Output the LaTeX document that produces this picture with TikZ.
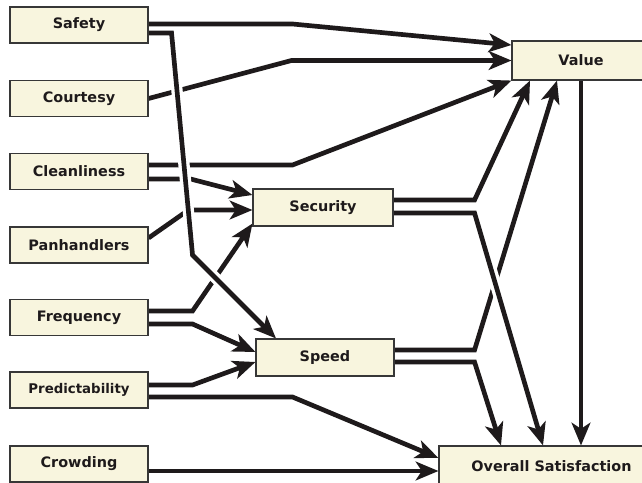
\documentclass[tikz,border=0pt]{standalone}
\usepackage{fontspec}
\setmainfont{DejaVu Sans}
\usetikzlibrary{arrows.meta,calc}
\pgfdeclarelayer{background}
\pgfsetlayers{background,main}
\definecolor{boxfill}{RGB}{248,245,222}
\definecolor{ink}{RGB}{30,26,27}
\definecolor{boxedge}{RGB}{55,55,55}
\tikzset{
 box/.style={draw=boxedge, line width=0.8pt, fill=boxfill, text=ink,
   font=\bfseries\fontsize{10.8}{12}\selectfont, inner sep=0pt,
   minimum width=103.5pt, minimum height=27pt},
 conn/.style={draw=ink, line width=3.5pt, line join=miter,
   -{Stealth[length=17pt,width=14pt,inset=4.5pt]}},
 halo/.style={preaction={draw=white, line width=8.5pt, -, line join=round,
   shorten <=3pt, shorten >=24pt}},
}
\begin{document}
\begin{tikzpicture}[x=0.75pt,y=-0.75pt]
\useasboundingbox (0,0) rectangle (642,482);
\clip (0,0) rectangle (642,482);
\begin{pgfonlayer}{background}
\fill[white] (0,0) rectangle (642,482);
\end{pgfonlayer}
% left column
\node[box] (safety) at (79,25) {Safety};
\node[box] (courtesy) at (79,98.5) {Courtesy};
\node[box] (cleanliness) at (79,171.5) {Cleanliness};
\node[box] (panhandlers) at (79,245) {Panhandlers};
\node[box] (frequency) at (79,317.5) {Frequency};
\node[box, font=\bfseries\fontsize{10}{12}\selectfont] (predictability) at (79,390) {Predictability};
\node[box] (crowding) at (79,464) {Crowding};
% middle
\node[box, minimum width=105pt, minimum height=27.75pt] (security) at (323,207.5) {Security};
\node[box, minimum height=27.75pt] (speed) at (325,357.5) {Speed};
% right
\node[box, minimum height=29.25pt] (value) at (581,60.5) {Value};
\node[box, minimum width=168.75pt, minimum height=30pt] (overall) at (551.5,466) {Overall Satisfaction};
\begin{pgfonlayer}{background}
\draw[conn] ($(safety.east)+(0,-1)$) -- ++(144,0) -- ($(value.west)+(0,-15.5)$);
\draw[conn] (courtesy.east) -- ($(value.west)+(-220,0)$) -- (value.west);
\draw[conn] ($(cleanliness.east)+(0,-6.5)$) -- ++(144,0) -- (value.south west);
\draw[conn] ($(cleanliness.east)+(0,7.5)$) -- ++(42,0) -- ($(security.west)+(0,-12.5)$);
\draw[conn] ($(panhandlers.east)+(0,-7)$) -- ($(security.west)+(-64,2.5)$) -- ($(security.west)+(0,2.5)$);
\draw[conn] ($(frequency.east)+(0,-6.5)$) -- ++(44,0) -- ($(security.south west)+(0,-3)$);
\draw[conn] ($(frequency.east)+(0,6.5)$) -- ++(44,0) -- ($(speed.west)+(0,-5.5)$);
\draw[conn] ($(predictability.east)+(0,-5)$) -- ++(44,0) -- ($(speed.west)+(0,4.5)$);
\draw[conn] ($(predictability.east)+(0,7)$) -- ++(144,0) -- ($(overall.west)+(0,-8)$);
\draw[conn] ($(crowding.east)+(0,7)$) -- ($(overall.west)+(0,5)$);
\draw[conn] ($(security.east)+(0,-7.5)$) -- ++(81,0) -- ($(value.south)+(-51,0)$);
\draw[conn] ($(speed.east)+(0,-7.5)$) -- ++(80,0) -- ($(value.south)+(-24,0)$);
\draw[conn] ($(speed.east)+(0,4.5)$) -- ++(80,0) -- ($(overall.north)+(-50.5,0)$);
\draw[conn] (value.south) -- (value.south |- overall.north);
\draw[conn,halo] ($(safety.east)+(0,8)$) -- ++(23,0) -- ++(21,222) -- ($(speed.north)+(-49,0)$);
\draw[conn,halo] ($(security.east)+(0,5.5)$) -- ++(81,0) -- ($(overall.north)+(-8.5,0)$);
\end{pgfonlayer}
\end{tikzpicture}
\end{document}
